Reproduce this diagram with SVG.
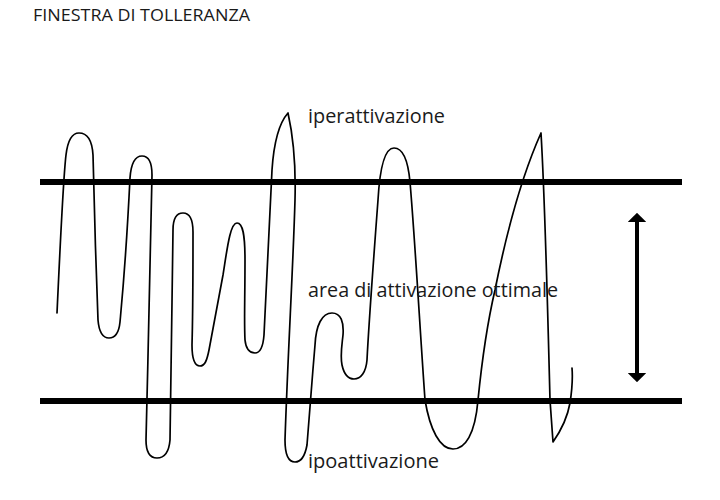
<svg xmlns="http://www.w3.org/2000/svg" width="720" height="500" viewBox="0 0 720 500">
<style>
.lbl{font-family:"Open Sans","Noto Sans","Liberation Sans",sans-serif;fill:#1a1a1a}
.band{stroke:#000;stroke-width:6}
.wave{fill:none;stroke:#000;stroke-width:1.7;stroke-linecap:round;stroke-linejoin:round}
</style>
<defs>
<marker id="ah" viewBox="0 0 5 10" refX="0" refY="5" markerWidth="2.3" markerHeight="4.6" orient="auto-start-reverse" markerUnits="strokeWidth" preserveAspectRatio="none">
<path d="M0,0 L5,5 L0,10 Z" fill="#000"/>
</marker>
</defs>
<rect width="720" height="500" fill="#fff"/>
<g id="title"><text class="lbl" x="33" y="21" font-size="17" textLength="217" lengthAdjust="spacingAndGlyphs">FINESTRA DI TOLLERANZA</text></g>
<g id="bands">
<line class="band" x1="40" y1="182" x2="682" y2="182"/>
<line class="band" x1="40" y1="401" x2="682" y2="401"/>
</g>
<g id="connectors">
<path class="wave" d="M57,313 C60,250 63,180 66,155 C68,138 73,133 79,133 C86,133 92,138 93,155 C94,200 96,270 98,320 C99,332 103,338 109,338 C115,338 119,332 120,322 C122,300 126,260 130,178 C131,164 135,156 142,156 C148,156 152,162 152,175 C151,250 148,350 146,440 C146,452 150,458 157,458 C164,458 169,452 170,440 C171,380 172,300 173,230 C173,218 177,213 183,213 C189,213 193,218 193,232 C193,270 193,310 192,345 C192,360 195,366 200,366 C205,366 207,360 209,350 L223,275 C227,250 230,223 237,223 C243,223 245,235 245,260 C245,300 244,320 245,340 C246,350 250,353 255,353 C260,353 263,348 264,335 C266,290 269,230 272,170 C274,140 280,122 288,113 C294,140 296,165 295,200 C293,270 288,350 285,440 C285,455 289,462 295,462 C301,462 305,456 307,445 C309,420 312,380 315,345 C316,325 322,313 332,313 C341,313 344,322 343,335 C342,345 340,355 342,365 C344,374 348,379 354,379 C361,379 366,372 367,360 C369,320 372,280 378,200 C380,165 385,148 394,148 C403,148 408,160 410,182 C415,240 420,330 425,400 C430,430 440,449 453,449 C465,449 475,435 478,400 C482,360 488,320 495,290 C505,240 520,180 541,133 C545,200 548,320 550,400 L553,442 C560,432 567,420 570,403 C572,390 573,380 572,368"/>
<line x1="637" y1="222" x2="637" y2="373" stroke="#000" stroke-width="4" marker-start="url(#ah)" marker-end="url(#ah)"/>
</g>
<g id="iperattivazione"><text class="lbl" x="308" y="123" font-size="20" textLength="137" lengthAdjust="spacingAndGlyphs">iperattivazione</text></g>
<g id="area"><text class="lbl" x="308" y="297" font-size="20" textLength="250" lengthAdjust="spacingAndGlyphs">area di attivazione ottimale</text></g>
<g id="ipoattivazione"><text class="lbl" x="308" y="468" font-size="20" textLength="131" lengthAdjust="spacingAndGlyphs">ipoattivazione</text></g>
</svg>
